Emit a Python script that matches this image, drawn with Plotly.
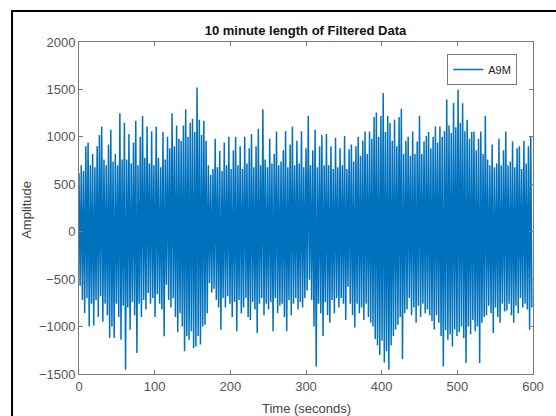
import numpy as np
import plotly.graph_objects as go

# Sampling: positive peaks every 3 s starting at 0 s, negative peaks every 3 s starting at 1.5 s
peak_step = 3.0
upper_peaks = [
    620, 700, 640, 900, 940, 700, 820, 680, 900, 1020,
    1110, 760, 700, 920, 1075, 740, 820, 700, 1250, 760,
    1150, 760, 1030, 720, 940, 1170, 700, 1000, 1220, 780,
    1110, 720, 1060, 700, 1110, 780, 680, 1050, 760, 1000,
    880, 1250, 900, 1120, 980, 960, 1120, 1290, 1000, 1150,
    1190, 1050, 1520, 1180, 1020, 1170, 960, 700, 600, 660,
    980, 680, 850, 640, 940, 700, 1000, 660, 860, 1000,
    700, 900, 660, 1000, 720, 880, 1030, 680, 900, 1085,
    700, 1290, 760, 680, 980, 720, 820, 1056, 700, 740,
    860, 1060, 680, 920, 1110, 700, 960, 720, 1060, 680,
    880, 1223, 700, 860, 1075, 680, 900, 1020, 700, 1030,
    700, 900, 660, 990, 680, 880, 700, 1010, 660, 870,
    920, 740, 900, 1000, 800, 960, 1056, 820, 1056, 980,
    1210, 1257, 1000, 1220, 1462, 1050, 1220, 1145, 960, 1180,
    900, 1210, 1297, 820, 960, 1000, 800, 1056, 820, 950,
    1223, 820, 950, 1010, 1050, 880, 1000, 1110, 940, 1110,
    1000, 1060, 1393, 1120, 1040, 1360, 1100, 1497, 1150, 1355,
    1060, 1180, 980, 1050, 1056, 860, 980, 1056, 820, 1223,
    760, 700, 920, 680, 720, 980, 700, 860, 1056, 700,
    740, 950, 680, 880, 900, 660, 960, 720, 900, 1003,
]
lower_peaks = [
    -570, -720, -857, -700, -998, -760, -990, -720, -900, -680,
    -950, -760, -880, -1120, -1000, -1120, -760, -900, -1138, -780,
    -1455, -800, -1033, -740, -880, -1279, -760, -900, -720, -820,
    -647, -760, -700, -900, -660, -760, -820, -1103, -560, -720,
    -800, -700, -900, -1060, -860, -1000, -1260, -1100, -1140, -1050,
    -1226, -1210, -1100, -1190, -1000, -980, -860, -541, -640, -600,
    -720, -800, -1033, -700, -800, -680, -760, -900, -740, -1050,
    -720, -860, -800, -700, -900, -930, -740, -820, -1068, -760,
    -700, -880, -760, -820, -740, -1050, -700, -860, -780, -760,
    -900, -1050, -720, -880, -760, -700, -820, -740, -800, -700,
    -620, -506, -720, -1000, -1420, -760, -860, -1100, -740, -880,
    -960, -720, -860, -700, -800, -700, -760, -930, -580, -760,
    -880, -1010, -760, -860, -800, -930, -760, -900, -960, -1000,
    -1130, -1200, -1300, -1150, -1380, -1260, -1455, -1200, -1100, -1030,
    -980, -900, -1345, -860, -820, -700, -880, -800, -960, -780,
    -900, -760, -860, -820, -880, -940, -1030, -880, -960, -1100,
    -1420, -1040, -1140, -1080, -1210, -1030, -1100, -1060, -1000, -1120,
    -1385, -1000, -1080, -930, -1050, -1000, -1385, -960, -900, -880,
    -780, -860, -1068, -800, -900, -960, -760, -840, -830, -760,
    -880, -960, -780, -860, -700, -800, -760, -820, -1033, -800,
]

x_ticks = [0, 100, 200, 300, 400, 500, 600]
y_ticks = [-1500, -1000, -500, 0, 500, 1000, 1500, 2000]
series_name = "A9M"

# interleave positive and negative peaks into one time series
n = len(upper_peaks)
t = np.empty(2 * n)
amp = np.empty(2 * n)
t[0::2] = np.arange(n) * peak_step
t[1::2] = np.arange(n) * peak_step + peak_step / 2
amp[0::2] = upper_peaks
amp[1::2] = lower_peaks

FONT = "Liberation Sans, Arial, sans-serif"
W, H = 556, 416
L, R, T, B = 79, 16, 42, 42
pw, ph = W - L - R, H - T - B

def px(xp):
    return (xp - L) / pw

def py(yp):
    return (H - B - yp) / ph

fig = go.Figure()
fig.add_trace(go.Scatter(
    x=t, y=amp, mode="lines", name=series_name,
    line=dict(color="#0072BD", width=1.5, simplify=False),
))

axis_common = dict(
    showgrid=False, zeroline=False, showline=True, linecolor="#7a7a7a",
    linewidth=1, mirror="ticks", ticks="inside", ticklen=4, tickcolor="#7a7a7a",
    tickfont=dict(family=FONT, size=13, color="#555555"),
)
fig.update_xaxes(range=[0, 600], tickvals=x_ticks, **axis_common)
fig.update_yaxes(range=[-1500, 2000], tickvals=y_ticks, **axis_common)

fig.update_layout(
    width=W, height=H,
    margin=dict(l=L, r=R, t=T, b=B),
    paper_bgcolor="white", plot_bgcolor="white",
    showlegend=True,
    legend=dict(
        x=px(524), y=py(54), xanchor="right", yanchor="top",
        bordercolor="#7a7a7a", borderwidth=1, bgcolor="white",
        font=dict(family=FONT, size=11, color="#222222"),
        itemwidth=30, tracegroupgap=0,
    ),
    title=dict(
        text="<b>10 minute length of Filtered Data</b>",
        x=px(309), xanchor="center", y=1 - 30 / H, yanchor="middle",
        xref="paper", yref="container",
        font=dict(family=FONT, size=13, color="#111111"),
    ),
    shapes=[dict(
        type="rect", xref="paper", yref="paper",
        x0=px(11), x1=px(W + 20), y0=py(H + 20), y1=py(11),
        line=dict(color="black", width=2), fillcolor="rgba(0,0,0,0)", layer="above",
    )],
    annotations=[
        dict(text="Amplitude", xref="paper", yref="paper", x=px(25), y=py(210),
             xanchor="center", yanchor="middle", textangle=-90, showarrow=False,
             font=dict(family=FONT, size=13, color="#444444")),
        dict(text="Time (seconds)", xref="paper", yref="paper", x=px(310), y=py(408),
             xanchor="center", yanchor="middle", showarrow=False,
             font=dict(family=FONT, size=13, color="#444444")),
    ],
)

fig.write_html("out.html")
